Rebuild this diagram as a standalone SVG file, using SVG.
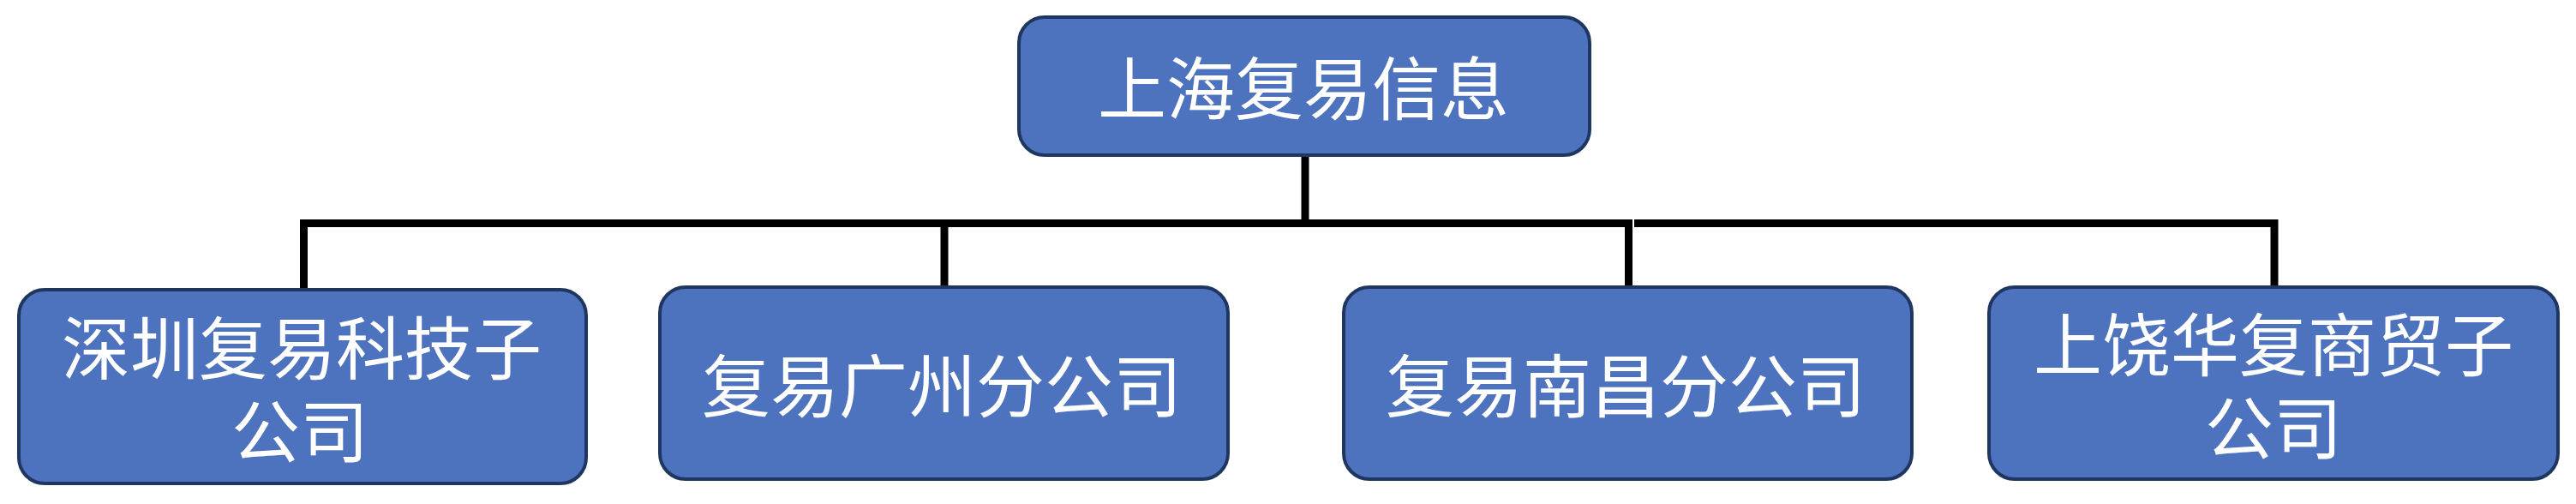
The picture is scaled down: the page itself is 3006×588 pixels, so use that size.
<svg xmlns="http://www.w3.org/2000/svg" width="3006" height="588" viewBox="0 0 3006 588">
<style>
.box{fill:#4E73BE;stroke:#1F3660;stroke-width:4}
.lbl{fill:#FFFFFF;font-family:"Liberation Sans","Noto Sans CJK SC",sans-serif;font-size:80px;text-anchor:middle}
.conn{fill:none;stroke:#000000;stroke-width:9;stroke-linecap:butt;stroke-linejoin:miter}
</style>
<rect width="3006" height="588" fill="#FFFFFF"/>
<g id="connectors">
<path class="conn" d="M1523,183 V260.5"/>
<path class="conn" d="M1523,260.5 H354.5 V337"/>
<path class="conn" d="M1102,260.5 V334"/>
<path class="conn" d="M1523,260.5 H1900.5 V334"/>
<path class="conn" d="M1907,260.5 H2654 V334"/>
</g>
<g id="node-root">
<rect class="box" x="1189" y="20" width="666" height="161" rx="30" ry="30"/>
<text class="lbl" x="1521" y="133">上海复易信息</text>
</g>
<g id="node-shenzhen">
<rect class="box" x="22" y="338" width="662" height="226" rx="30" ry="30"/>
<text class="lbl"><tspan x="352" y="436">深圳复易科技子</tspan><tspan x="350" y="533">公司</tspan></text>
</g>
<g id="node-guangzhou">
<rect class="box" x="770" y="335" width="663" height="224" rx="30" ry="30"/>
<text class="lbl" x="1099" y="480">复易广州分公司</text>
</g>
<g id="node-nanchang">
<rect class="box" x="1568" y="335" width="663" height="224" rx="30" ry="30"/>
<text class="lbl" x="1897" y="480">复易南昌分公司</text>
</g>
<g id="node-shangrao">
<rect class="box" x="2321" y="335" width="664" height="224" rx="30" ry="30"/>
<text class="lbl"><tspan x="2653" y="432">上饶华复商贸子</tspan><tspan x="2653" y="529">公司</tspan></text>
</g>
</svg>
